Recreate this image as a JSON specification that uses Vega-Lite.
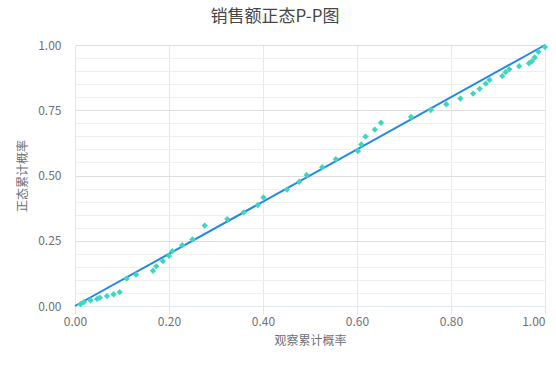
{
  "$schema": "https://vega.github.io/schema/vega-lite/v6.json",
  "width": 470,
  "height": 261,
  "autosize": {"type": "none"},
  "padding": {"left": 75, "top": 45, "right": 11, "bottom": 60},
  "background": "white",
  "config": {
    "font": "Noto Sans CJK SC",
    "view": {"stroke": null}
  },
  "title": {
    "text": "销售额正态P-P图",
    "fontSize": 17,
    "fontWeight": "normal",
    "color": "#464646",
    "anchor": "middle",
    "dx": -35,
    "offset": 13
  },
  "datasets": {
    "pts": [
      {"obs": 0.012, "exp": 0.007},
      {"obs": 0.019, "exp": 0.015},
      {"obs": 0.033, "exp": 0.022},
      {"obs": 0.047, "exp": 0.027},
      {"obs": 0.053, "exp": 0.032},
      {"obs": 0.068, "exp": 0.038},
      {"obs": 0.082, "exp": 0.045},
      {"obs": 0.095, "exp": 0.053},
      {"obs": 0.110, "exp": 0.105},
      {"obs": 0.130, "exp": 0.120},
      {"obs": 0.166, "exp": 0.135},
      {"obs": 0.173, "exp": 0.152},
      {"obs": 0.187, "exp": 0.172},
      {"obs": 0.200, "exp": 0.192},
      {"obs": 0.207, "exp": 0.210},
      {"obs": 0.228, "exp": 0.233},
      {"obs": 0.250, "exp": 0.255},
      {"obs": 0.276, "exp": 0.308},
      {"obs": 0.324, "exp": 0.333},
      {"obs": 0.359, "exp": 0.359},
      {"obs": 0.389, "exp": 0.387},
      {"obs": 0.401, "exp": 0.416},
      {"obs": 0.451, "exp": 0.446},
      {"obs": 0.477, "exp": 0.476},
      {"obs": 0.493, "exp": 0.502},
      {"obs": 0.526, "exp": 0.532},
      {"obs": 0.555, "exp": 0.563},
      {"obs": 0.602, "exp": 0.594},
      {"obs": 0.609, "exp": 0.619},
      {"obs": 0.618, "exp": 0.649},
      {"obs": 0.638, "exp": 0.676},
      {"obs": 0.651, "exp": 0.702},
      {"obs": 0.715, "exp": 0.724},
      {"obs": 0.757, "exp": 0.751},
      {"obs": 0.790, "exp": 0.773},
      {"obs": 0.820, "exp": 0.795},
      {"obs": 0.847, "exp": 0.814},
      {"obs": 0.861, "exp": 0.832},
      {"obs": 0.874, "exp": 0.852},
      {"obs": 0.882, "exp": 0.866},
      {"obs": 0.909, "exp": 0.881},
      {"obs": 0.916, "exp": 0.896},
      {"obs": 0.924, "exp": 0.907},
      {"obs": 0.945, "exp": 0.919},
      {"obs": 0.966, "exp": 0.930},
      {"obs": 0.972, "exp": 0.937},
      {"obs": 0.978, "exp": 0.952},
      {"obs": 0.986, "exp": 0.974},
      {"obs": 1.000, "exp": 0.992}
    ],
    "ref": [
      {"obs": 0, "exp": 0},
      {"obs": 1, "exp": 1}
    ]
  },
  "encoding": {
    "x": {
      "field": "obs",
      "type": "quantitative",
      "scale": {"domain": [0, 1], "nice": false, "zero": false},
      "title": "观察累计概率",
      "axis": {
        "values": [0, 0.2, 0.4, 0.6, 0.8, 1],
        "format": ".2f",
        "labelAlign": {"expr": "datum.value >= 1 ? 'right' : 'center'"},
        "labelColor": "#6e7079",
        "labelFontSize": 12,
        "labelPadding": 2,
        "labelOverlap": false,
        "tickSize": 8,
        "tickColor": "#e0e6f1",
        "domainColor": "#e0e6f1",
        "gridColor": "#e8e8e8",
        "titleColor": "#6e7079",
        "titleFontSize": 12,
        "titleFontWeight": "normal",
        "titlePadding": 8
      }
    },
    "y": {
      "field": "exp",
      "type": "quantitative",
      "scale": {"domain": [0, 1], "nice": false, "zero": false},
      "title": "正态累计概率",
      "axis": {
        "values": [0, 0.05, 0.1, 0.15, 0.2, 0.25, 0.3, 0.35, 0.4, 0.45, 0.5, 0.55, 0.6, 0.65, 0.7, 0.75, 0.8, 0.85, 0.9, 0.95, 1],
        "labelExpr": "abs(datum.value * 4 - round(datum.value * 4)) < 0.001 ? format(datum.value, '.2f') : ''",
        "labelOverlap": false,
        "labelFlush": false,
        "gridColor": {
          "condition": {"test": "abs(datum.value * 4 - round(datum.value * 4)) < 0.001", "value": "#dedede"},
          "value": "#efefef"
        },
        "ticks": false,
        "labelColor": "#6e7079",
        "labelFontSize": 12,
        "labelPadding": 14,
        "domainColor": "#e0e6f1",
        "titleColor": "#6e7079",
        "titleFontSize": 12,
        "titleFontWeight": "normal",
        "titlePadding": 8
      }
    }
  },
  "layer": [
    {
      "data": {"name": "ref"},
      "mark": {"type": "line", "color": "#2288e6", "strokeWidth": 2}
    },
    {
      "data": {"name": "pts"},
      "mark": {"type": "point", "shape": "diamond", "filled": true, "color": "#3ed6c0", "opacity": 1, "size": 40}
    }
  ]
}
